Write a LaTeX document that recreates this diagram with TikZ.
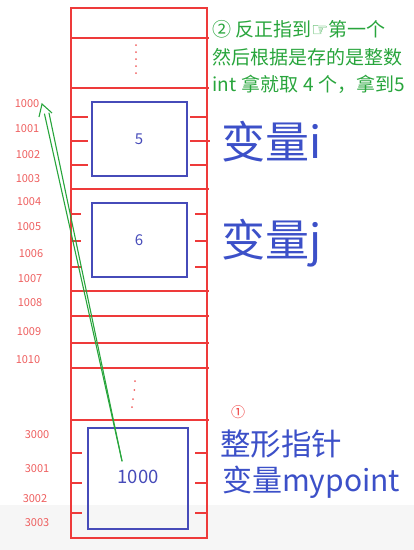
\documentclass[tikz,border=0pt]{standalone}
\usepackage{fontspec}
\setmainfont{Noto Sans CJK SC}
\newfontfamily\cjk{Noto Sans CJK SC}
\newfontfamily\symf{DejaVu Sans}
\usetikzlibrary{arrows.meta}
\definecolor{memred}{RGB}{238,58,58}
\definecolor{addrred}{RGB}{238,95,95}
\definecolor{boxblue}{RGB}{70,75,185}
\definecolor{txtblue}{RGB}{60,80,200}
\definecolor{hgreen}{RGB}{40,165,60}
\begin{document}
\begin{tikzpicture}[x=1pt,y=-1pt,
  memline/.style={draw=memred,line width=2.2pt},
  tick/.style={draw=memred,line width=2.2pt},
  varbox/.style={draw=boxblue,line width=2pt},
  addr/.style={text=addrred,font=\cjk\fontsize{11}{12}\selectfont,inner sep=0pt},
  val/.style={text=boxblue,inner sep=0pt},
  note/.style={text=hgreen,font=\cjk\fontsize{19}{20}\selectfont,anchor=west,inner sep=0pt},
  bigname/.style={text=txtblue,font=\cjk\fontsize{44}{46}\selectfont,anchor=west,inner sep=0pt},
  dotmark/.style={fill=memred!80,draw=none}]
\useasboundingbox (0,0) rectangle (414,550);
\fill[gray!7] (0,505) rectangle (414,550);
% memory column
\draw[memline] (71,8) rectangle (207,538);
\foreach \yy in {38,88,189,291,316,343,368,420}
  \draw[memline] (71,\yy) -- (209,\yy);
% dots
\foreach \yy in {45,52,59,66,73} \fill[dotmark] (136,\yy) circle (1);
\fill[dotmark] (135,381) circle (1);
\fill[dotmark] (134.3,390) circle (1);
\fill[dotmark] (133,399) circle (1);
\fill[dotmark] (132,407) circle (1);
% boxes
\draw[varbox] (92,102) rectangle (187,176);
\node[val,font=\cjk\fontsize{15}{16}\selectfont] (vi) at (139,139) {5};
\foreach \yy in {117,141,165} {\draw[tick] (71,\yy) -- (88,\yy); \draw[tick] (190,\yy) -- (207,\yy);}
\draw[tick] (207,141) -- (210,141);
\draw[varbox] (92,203) rectangle (187,277);
\node[val,font=\cjk\fontsize{15}{16}\selectfont] (vj) at (139,240) {6};
\foreach \yy in {214,241,267} {\draw[tick] (71,\yy) -- (81,\yy); \draw[tick] (195,\yy) -- (207,\yy);}
\draw[varbox] (88,428) rectangle (188,529);
\node[val,font=\cjk\fontsize{18.5}{20}\selectfont] (vp) at (138,477) {1000};
\foreach \yy in {453,483,513} {\draw[tick] (71,\yy) -- (82,\yy); \draw[tick] (195,\yy) -- (208,\yy);}
% addresses
\node[addr] (a1000) at (27,104) {1000};
\node[addr] (a1001) at (27,129) {1001};
\node[addr] (a1002) at (28,155) {1002};
\node[addr] (a1003) at (28,179) {1003};
\node[addr] (a1004) at (29,202) {1004};
\node[addr] (a1005) at (29,227) {1005};
\node[addr] (a1006) at (31,254) {1006};
\node[addr] (a1007) at (30,279) {1007};
\node[addr] (a1008) at (30,303) {1008};
\node[addr] (a1009) at (29,332) {1009};
\node[addr] (a1010) at (28,360) {1010};
\node[addr] (a3000) at (37,435) {3000};
\node[addr] (a3001) at (37,469) {3001};
\node[addr] (a3002) at (35,499) {3002};
\node[addr] (a3003) at (37,523) {3003};
% green arrow
\coordinate (ps) at (122,461);
\coordinate (tip) at (42,104);
\coordinate (sa) at (44.5,114);
\coordinate (sb) at (49,113);
\draw[hgreen,line width=1.1pt,line cap=round] (ps) -- (sa);
\draw[hgreen,line width=1.1pt,line cap=round] (ps) -- (sb);
\draw[hgreen,line width=1.1pt,line join=miter] (39,117) -- (tip) -- (52,113);
% notes
\node[note] (n1) at (212,29) {② 反正指到{\symf\fontsize{19}{20}\selectfont ☞}第一个};
\node[note] (n2) at (212,57) {然后根据是存的是整数};
\node[note] (n3) at (212,84) {int\hspace{5pt}拿就取\hspace{5pt}4\hspace{5pt}个，拿到5};
\node[bigname] (li) at (221,142) {变量i};
\node[bigname] (lj) at (221,243) {变量j};
\node[text=memred,font=\cjk\fontsize{14}{16}\selectfont,inner sep=0pt] (c1) at (238,412) {①};
\node[text=txtblue,font=\cjk\fontsize{30.5}{32}\selectfont,anchor=west,inner sep=0pt] (lp1) at (220,444) {整形指针};
\node[text=txtblue,font=\cjk\fontsize{30}{32}\selectfont,anchor=west,inner sep=0pt] (lp2) at (222,482) {变量mypoint};
\end{tikzpicture}
\end{document}
